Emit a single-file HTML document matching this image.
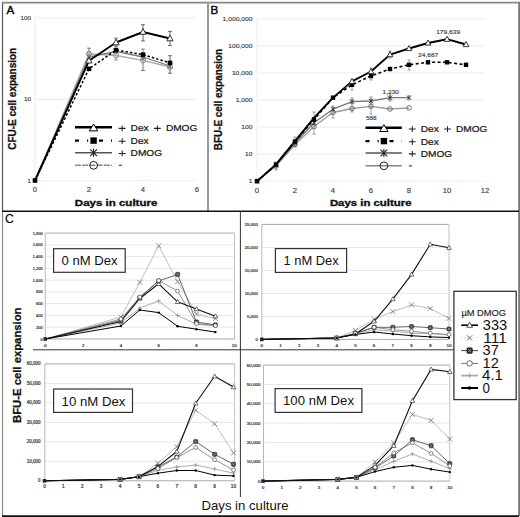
<!DOCTYPE html>
<html><head><meta charset="utf-8"><style>
html,body{margin:0;padding:0;background:#fff;}
svg{display:block;}
</style></head><body>
<svg width="520" height="517" viewBox="0 0 520 517" font-family="&quot;Liberation Sans&quot;, sans-serif">
<rect width="520" height="517" fill="#fff"/>
<line x1="35" y1="99.29999999999998" x2="197" y2="99.29999999999998" stroke="#ececec" stroke-width="1" />
<line x1="35" y1="17.899999999999977" x2="197" y2="17.899999999999977" stroke="#ececec" stroke-width="1" />
<line x1="35" y1="17.899999999999977" x2="35" y2="180.7" stroke="#ececec" stroke-width="1" />
<line x1="35" y1="180.7" x2="197" y2="180.7" stroke="#f0f0f0" stroke-width="1" />
<text x="31.1" y="19.799999999999976" font-size="5.4" text-anchor="end" fill="#444" font-weight="normal" textLength="10.63" lengthAdjust="spacingAndGlyphs" stroke="#444" stroke-width="0.15">100</text>
<text x="31.1" y="101.19999999999999" font-size="5.4" text-anchor="end" fill="#444" font-weight="normal" textLength="7.09" lengthAdjust="spacingAndGlyphs" stroke="#444" stroke-width="0.15">10</text>
<text x="31.1" y="182.6" font-size="5.4" text-anchor="end" fill="#444" font-weight="normal" textLength="3.54" lengthAdjust="spacingAndGlyphs" stroke="#444" stroke-width="0.15">1</text>
<text x="35" y="191.7" font-size="6.4" text-anchor="middle" fill="#444" font-weight="normal" textLength="4.27" lengthAdjust="spacingAndGlyphs" stroke="#444" stroke-width="0.15">0</text>
<text x="89" y="191.7" font-size="6.4" text-anchor="middle" fill="#444" font-weight="normal" textLength="4.27" lengthAdjust="spacingAndGlyphs" stroke="#444" stroke-width="0.15">2</text>
<text x="143" y="191.7" font-size="6.4" text-anchor="middle" fill="#444" font-weight="normal" textLength="4.27" lengthAdjust="spacingAndGlyphs" stroke="#444" stroke-width="0.15">4</text>
<text x="197" y="191.7" font-size="6.4" text-anchor="middle" fill="#444" font-weight="normal" textLength="4.27" lengthAdjust="spacingAndGlyphs" stroke="#444" stroke-width="0.15">6</text>
<text x="116.1" y="206.1" font-size="8.8" text-anchor="middle" fill="#111" font-weight="bold" textLength="82.5" lengthAdjust="spacingAndGlyphs" stroke="#111" stroke-width="0.35">Days in culture</text>
<text transform="translate(16.2,149.8) rotate(-90)" font-size="10" font-weight="bold" fill="#111" stroke="#111" stroke-width="0.3" textLength="102" lengthAdjust="spacingAndGlyphs">CFU-E cell expansion</text>
<text x="6.5" y="13.8" font-size="11.6" text-anchor="start" fill="#000" font-weight="normal" stroke="#000" stroke-width="0.4">A</text>
<line x1="89" y1="48.2" x2="89" y2="59" stroke="#666" stroke-width="0.9" />
<line x1="87.1" y1="48.2" x2="90.9" y2="48.2" stroke="#666" stroke-width="0.9" />
<line x1="87.1" y1="59" x2="90.9" y2="59" stroke="#666" stroke-width="0.9" />
<line x1="116" y1="38.2" x2="116" y2="46" stroke="#666" stroke-width="0.9" />
<line x1="114.1" y1="38.2" x2="117.9" y2="38.2" stroke="#666" stroke-width="0.9" />
<line x1="114.1" y1="46" x2="117.9" y2="46" stroke="#666" stroke-width="0.9" />
<line x1="143" y1="24.7" x2="143" y2="40.9" stroke="#555" stroke-width="0.9" />
<line x1="141.1" y1="24.7" x2="144.9" y2="24.7" stroke="#555" stroke-width="0.9" />
<line x1="141.1" y1="40.9" x2="144.9" y2="40.9" stroke="#555" stroke-width="0.9" />
<line x1="170" y1="31.4" x2="170" y2="45.6" stroke="#555" stroke-width="0.9" />
<line x1="168.1" y1="31.4" x2="171.9" y2="31.4" stroke="#555" stroke-width="0.9" />
<line x1="168.1" y1="45.6" x2="171.9" y2="45.6" stroke="#555" stroke-width="0.9" />
<line x1="143" y1="49" x2="143" y2="60" stroke="#777" stroke-width="0.9" />
<line x1="141.1" y1="49" x2="144.9" y2="49" stroke="#777" stroke-width="0.9" />
<line x1="141.1" y1="60" x2="144.9" y2="60" stroke="#777" stroke-width="0.9" />
<line x1="143" y1="57" x2="143" y2="70.5" stroke="#666" stroke-width="0.9" />
<line x1="141.1" y1="57" x2="144.9" y2="57" stroke="#666" stroke-width="0.9" />
<line x1="141.1" y1="70.5" x2="144.9" y2="70.5" stroke="#666" stroke-width="0.9" />
<line x1="170" y1="55.7" x2="170" y2="73.2" stroke="#555" stroke-width="0.9" />
<line x1="168.1" y1="55.7" x2="171.9" y2="55.7" stroke="#555" stroke-width="0.9" />
<line x1="168.1" y1="73.2" x2="171.9" y2="73.2" stroke="#555" stroke-width="0.9" />
<line x1="89" y1="52" x2="89" y2="62" stroke="#888" stroke-width="0.9" />
<line x1="87.1" y1="52" x2="90.9" y2="52" stroke="#888" stroke-width="0.9" />
<line x1="87.1" y1="62" x2="90.9" y2="62" stroke="#888" stroke-width="0.9" />
<line x1="116" y1="46" x2="116" y2="60" stroke="#888" stroke-width="0.9" />
<line x1="114.1" y1="46" x2="117.9" y2="46" stroke="#888" stroke-width="0.9" />
<line x1="114.1" y1="60" x2="117.9" y2="60" stroke="#888" stroke-width="0.9" />
<polyline points="35.00,180.50 89.00,53.80 116.00,55.50 143.00,60.40 170.00,67.00" fill="none" stroke="#aaa" stroke-width="1.4" stroke-linejoin="round" />
<polyline points="35.00,180.50 89.00,57.00 116.00,51.30 143.00,57.00 170.00,66.00" fill="none" stroke="#777" stroke-width="1.3" stroke-linejoin="round" />
<polyline points="35.00,180.50 89.00,68.80 116.00,50.10 143.00,54.60 170.00,62.90" fill="none" stroke="#000" stroke-width="1.5" stroke-linejoin="round" stroke-dasharray="2.5,2"/>
<polyline points="35.00,180.50 89.00,60.70 116.00,42.50 143.00,32.00 170.00,38.50" fill="none" stroke="#000" stroke-width="1.9" stroke-linejoin="round" />
<circle cx="89.00" cy="53.80" r="2.6" fill="#bbb" stroke="#888" stroke-width="0.9"/>
<circle cx="116.00" cy="55.50" r="2.6" fill="none" stroke="#888" stroke-width="0.9"/>
<circle cx="143.00" cy="60.40" r="2.6" fill="none" stroke="#888" stroke-width="0.9"/>
<circle cx="170.00" cy="67.00" r="2.6" fill="none" stroke="#888" stroke-width="0.9"/>
<path d="M86.60,54.60L91.40,59.40M86.60,59.40L91.40,54.60M89.00,54.12L89.00,59.88" stroke="#666" stroke-width="0.9" fill="none"/>
<path d="M113.60,48.90L118.40,53.70M113.60,53.70L118.40,48.90M116.00,48.42L116.00,54.18" stroke="#666" stroke-width="0.9" fill="none"/>
<path d="M140.60,54.60L145.40,59.40M140.60,59.40L145.40,54.60M143.00,54.12L143.00,59.88" stroke="#666" stroke-width="0.9" fill="none"/>
<path d="M167.60,63.60L172.40,68.40M167.60,68.40L172.40,63.60M170.00,63.12L170.00,68.88" stroke="#666" stroke-width="0.9" fill="none"/>
<rect x="86.70" y="66.50" width="4.60" height="4.60" fill="#000" stroke="none" stroke-width="0"/>
<rect x="113.70" y="47.80" width="4.60" height="4.60" fill="#000" stroke="none" stroke-width="0"/>
<rect x="140.70" y="52.30" width="4.60" height="4.60" fill="#000" stroke="none" stroke-width="0"/>
<rect x="167.70" y="60.60" width="4.60" height="4.60" fill="#000" stroke="none" stroke-width="0"/>
<polygon points="89.00,57.40 92.14,63.01 85.86,63.01" fill="#fff" stroke="#222" stroke-width="0.9"/>
<polygon points="116.00,39.20 119.14,44.81 112.86,44.81" fill="#fff" stroke="#222" stroke-width="0.9"/>
<polygon points="143.00,28.70 146.13,34.31 139.87,34.31" fill="#fff" stroke="#222" stroke-width="0.9"/>
<polygon points="170.00,35.20 173.13,40.81 166.87,40.81" fill="#fff" stroke="#222" stroke-width="0.9"/>
<rect x="32.70" y="178.20" width="4.60" height="4.60" fill="#000" stroke="none" stroke-width="0"/>
<line x1="75" y1="127.2" x2="112" y2="127.2" stroke="#000" stroke-width="2.5" />
<polygon points="93.60,124.00 97.80,130.90 89.40,130.90" fill="#fff" stroke="#000" stroke-width="1" stroke-linejoin="miter"/>
<line x1="75" y1="140.6" x2="112" y2="140.6" stroke="#000" stroke-width="2.2" stroke-dasharray="4,8,1.2,10.8"/>
<rect x="90.40" y="137.40" width="6.40" height="6.40" fill="#000" stroke="none" stroke-width="0"/>
<line x1="75" y1="152.7" x2="112" y2="152.7" stroke="#555" stroke-width="1.4" />
<path d="M90.20,149.30L97.00,156.10M90.20,156.10L97.00,149.30M93.60,148.62L93.60,156.78" stroke="#222" stroke-width="1.1" fill="none"/>
<line x1="75" y1="165.3" x2="112" y2="165.3" stroke="#888" stroke-width="1.6" stroke-dasharray="6,1.2"/>
<circle cx="93.60" cy="165.30" r="3.9" fill="none" stroke="#222" stroke-width="1"/>
<path d="M118.75,128.35H125.55M122.15,125.45V131.25" stroke="#222" stroke-width="1.05" fill="none"/>
<path d="M118.75,141.15H125.55M122.15,138.25V144.05" stroke="#222" stroke-width="1.05" fill="none"/>
<path d="M118.75,153.45H125.55M122.15,150.55V156.35" stroke="#222" stroke-width="1.05" fill="none"/>
<text x="130.6" y="131.1" font-size="9.6" text-anchor="start" fill="#111" font-weight="normal" textLength="18.08" lengthAdjust="spacingAndGlyphs" stroke="#111" stroke-width="0.2">Dex</text>
<path d="M154.00,128.35H160.80M157.40,125.45V131.25" stroke="#222" stroke-width="1.05" fill="none"/>
<text x="165.9" y="131.1" font-size="9.6" text-anchor="start" fill="#111" font-weight="normal" textLength="31.41" lengthAdjust="spacingAndGlyphs" stroke="#111" stroke-width="0.2">DMOG</text>
<text x="130.6" y="143.9" font-size="9.6" text-anchor="start" fill="#111" font-weight="normal" textLength="18.08" lengthAdjust="spacingAndGlyphs" stroke="#111" stroke-width="0.2">Dex</text>
<text x="130.6" y="156.2" font-size="9.6" text-anchor="start" fill="#111" font-weight="normal" textLength="31.41" lengthAdjust="spacingAndGlyphs" stroke="#111" stroke-width="0.2">DMOG</text>
<path d="M118.80,165.30H121.90" stroke="#444" stroke-width="1.2"/>
<line x1="257" y1="154.17000000000002" x2="485" y2="154.17000000000002" stroke="#ececec" stroke-width="1" />
<line x1="257" y1="127.09" x2="485" y2="127.09" stroke="#ececec" stroke-width="1" />
<line x1="257" y1="100.01" x2="485" y2="100.01" stroke="#ececec" stroke-width="1" />
<line x1="257" y1="72.93" x2="485" y2="72.93" stroke="#ececec" stroke-width="1" />
<line x1="257" y1="45.85000000000002" x2="485" y2="45.85000000000002" stroke="#ececec" stroke-width="1" />
<line x1="257" y1="18.77000000000001" x2="485" y2="18.77000000000001" stroke="#ececec" stroke-width="1" />
<line x1="257" y1="181.25" x2="485" y2="181.25" stroke="#f0f0f0" stroke-width="1" />
<line x1="257" y1="18.77000000000001" x2="257" y2="181.25" stroke="#ececec" stroke-width="1" />
<text x="252.4" y="183.25" font-size="5.4" text-anchor="end" fill="#444" font-weight="normal" textLength="3.72" lengthAdjust="spacingAndGlyphs" stroke="#444" stroke-width="0.15">1</text>
<text x="252.4" y="156.17000000000002" font-size="5.4" text-anchor="end" fill="#444" font-weight="normal" textLength="7.45" lengthAdjust="spacingAndGlyphs" stroke="#444" stroke-width="0.15">10</text>
<text x="252.4" y="129.09" font-size="5.4" text-anchor="end" fill="#444" font-weight="normal" textLength="11.17" lengthAdjust="spacingAndGlyphs" stroke="#444" stroke-width="0.15">100</text>
<text x="252.4" y="102.01" font-size="5.4" text-anchor="end" fill="#444" font-weight="normal" textLength="16.75" lengthAdjust="spacingAndGlyphs" stroke="#444" stroke-width="0.15">1,000</text>
<text x="252.4" y="74.93" font-size="5.4" text-anchor="end" fill="#444" font-weight="normal" textLength="20.48" lengthAdjust="spacingAndGlyphs" stroke="#444" stroke-width="0.15">10,000</text>
<text x="252.4" y="47.85000000000002" font-size="5.4" text-anchor="end" fill="#444" font-weight="normal" textLength="24.2" lengthAdjust="spacingAndGlyphs" stroke="#444" stroke-width="0.15">100,000</text>
<text x="252.4" y="20.77000000000001" font-size="5.4" text-anchor="end" fill="#444" font-weight="normal" textLength="29.79" lengthAdjust="spacingAndGlyphs" stroke="#444" stroke-width="0.15">1,000,000</text>
<text x="257" y="193.1" font-size="6.4" text-anchor="middle" fill="#444" font-weight="normal" textLength="4.27" lengthAdjust="spacingAndGlyphs" stroke="#444" stroke-width="0.15">0</text>
<text x="295" y="193.1" font-size="6.4" text-anchor="middle" fill="#444" font-weight="normal" textLength="4.27" lengthAdjust="spacingAndGlyphs" stroke="#444" stroke-width="0.15">2</text>
<text x="333" y="193.1" font-size="6.4" text-anchor="middle" fill="#444" font-weight="normal" textLength="4.27" lengthAdjust="spacingAndGlyphs" stroke="#444" stroke-width="0.15">4</text>
<text x="371" y="193.1" font-size="6.4" text-anchor="middle" fill="#444" font-weight="normal" textLength="4.27" lengthAdjust="spacingAndGlyphs" stroke="#444" stroke-width="0.15">6</text>
<text x="409" y="193.1" font-size="6.4" text-anchor="middle" fill="#444" font-weight="normal" textLength="4.27" lengthAdjust="spacingAndGlyphs" stroke="#444" stroke-width="0.15">8</text>
<text x="447" y="193.1" font-size="6.4" text-anchor="middle" fill="#444" font-weight="normal" textLength="8.54" lengthAdjust="spacingAndGlyphs" stroke="#444" stroke-width="0.15">10</text>
<text x="485" y="193.1" font-size="6.4" text-anchor="middle" fill="#444" font-weight="normal" textLength="8.54" lengthAdjust="spacingAndGlyphs" stroke="#444" stroke-width="0.15">12</text>
<text x="370.7" y="206.1" font-size="8.8" text-anchor="middle" fill="#111" font-weight="bold" textLength="81.6" lengthAdjust="spacingAndGlyphs" stroke="#111" stroke-width="0.35">Days in culture</text>
<text transform="translate(222,150.2) rotate(-90)" font-size="10" font-weight="bold" fill="#111" stroke="#111" stroke-width="0.3" textLength="101.3" lengthAdjust="spacingAndGlyphs">BFU-E cell expansion</text>
<text x="210.4" y="13.7" font-size="11.6" text-anchor="start" fill="#000" font-weight="normal" stroke="#000" stroke-width="0.4">B</text>
<line x1="276" y1="162" x2="276" y2="170" stroke="#888" stroke-width="0.8" />
<line x1="274.4" y1="162" x2="277.6" y2="162" stroke="#888" stroke-width="0.8" />
<line x1="274.4" y1="170" x2="277.6" y2="170" stroke="#888" stroke-width="0.8" />
<line x1="295" y1="137" x2="295" y2="147" stroke="#888" stroke-width="0.8" />
<line x1="293.4" y1="137" x2="296.6" y2="137" stroke="#888" stroke-width="0.8" />
<line x1="293.4" y1="147" x2="296.6" y2="147" stroke="#888" stroke-width="0.8" />
<line x1="314" y1="112" x2="314" y2="134" stroke="#888" stroke-width="0.8" />
<line x1="312.4" y1="112" x2="315.6" y2="112" stroke="#888" stroke-width="0.8" />
<line x1="312.4" y1="134" x2="315.6" y2="134" stroke="#888" stroke-width="0.8" />
<line x1="333" y1="106" x2="333" y2="118" stroke="#888" stroke-width="0.8" />
<line x1="331.4" y1="106" x2="334.6" y2="106" stroke="#888" stroke-width="0.8" />
<line x1="331.4" y1="118" x2="334.6" y2="118" stroke="#888" stroke-width="0.8" />
<line x1="352" y1="98" x2="352" y2="112" stroke="#888" stroke-width="0.8" />
<line x1="350.4" y1="98" x2="353.6" y2="98" stroke="#888" stroke-width="0.8" />
<line x1="350.4" y1="112" x2="353.6" y2="112" stroke="#888" stroke-width="0.8" />
<line x1="371" y1="97" x2="371" y2="114" stroke="#888" stroke-width="0.8" />
<line x1="369.4" y1="97" x2="372.6" y2="97" stroke="#888" stroke-width="0.8" />
<line x1="369.4" y1="114" x2="372.6" y2="114" stroke="#888" stroke-width="0.8" />
<line x1="390" y1="94" x2="390" y2="101" stroke="#888" stroke-width="0.8" />
<line x1="388.4" y1="94" x2="391.6" y2="94" stroke="#888" stroke-width="0.8" />
<line x1="388.4" y1="101" x2="391.6" y2="101" stroke="#888" stroke-width="0.8" />
<line x1="371" y1="68" x2="371" y2="76" stroke="#888" stroke-width="0.8" />
<line x1="369.4" y1="68" x2="372.6" y2="68" stroke="#888" stroke-width="0.8" />
<line x1="369.4" y1="76" x2="372.6" y2="76" stroke="#888" stroke-width="0.8" />
<line x1="390" y1="51" x2="390" y2="58" stroke="#888" stroke-width="0.8" />
<line x1="388.4" y1="51" x2="391.6" y2="51" stroke="#888" stroke-width="0.8" />
<line x1="388.4" y1="58" x2="391.6" y2="58" stroke="#888" stroke-width="0.8" />
<line x1="371" y1="72" x2="371" y2="80" stroke="#888" stroke-width="0.8" />
<line x1="369.4" y1="72" x2="372.6" y2="72" stroke="#888" stroke-width="0.8" />
<line x1="369.4" y1="80" x2="372.6" y2="80" stroke="#888" stroke-width="0.8" />
<line x1="352" y1="80" x2="352" y2="90" stroke="#888" stroke-width="0.8" />
<line x1="350.4" y1="80" x2="353.6" y2="80" stroke="#888" stroke-width="0.8" />
<line x1="350.4" y1="90" x2="353.6" y2="90" stroke="#888" stroke-width="0.8" />
<line x1="409" y1="60" x2="409" y2="70" stroke="#888" stroke-width="0.8" />
<line x1="407.4" y1="60" x2="410.6" y2="60" stroke="#888" stroke-width="0.8" />
<line x1="407.4" y1="70" x2="410.6" y2="70" stroke="#888" stroke-width="0.8" />
<polyline points="257.00,181.20 276.00,166.00 295.00,144.50 314.00,126.60 333.00,112.50 352.00,108.50 371.00,106.30 390.00,109.00 409.00,107.80" fill="none" stroke="#999" stroke-width="1.3" stroke-linejoin="round" />
<polyline points="257.00,181.20 276.00,165.00 295.00,143.00 314.00,122.70 333.00,109.20 352.00,101.70 371.00,101.00 390.00,97.70 409.00,97.70" fill="none" stroke="#777" stroke-width="1.3" stroke-linejoin="round" />
<polyline points="257.00,181.20 276.00,164.60 295.00,141.50 314.00,119.50 333.00,97.70 352.00,84.80 371.00,76.00 390.00,69.00 409.00,64.80 428.00,62.30 447.00,62.30 466.00,64.80" fill="none" stroke="#000" stroke-width="1.6" stroke-linejoin="round" stroke-dasharray="3,2.5"/>
<polyline points="257.00,181.20 276.00,164.40 295.00,141.10 314.00,117.90 333.00,97.60 352.00,81.40 371.00,71.50 390.00,54.60 409.00,48.50 428.00,43.00 447.00,39.20 466.00,44.50" fill="none" stroke="#000" stroke-width="1.9" stroke-linejoin="round" />
<circle cx="276.00" cy="166.00" r="2.3" fill="none" stroke="#555" stroke-width="0.8"/>
<circle cx="295.00" cy="144.50" r="2.3" fill="none" stroke="#555" stroke-width="0.8"/>
<circle cx="314.00" cy="126.60" r="2.3" fill="none" stroke="#555" stroke-width="0.8"/>
<circle cx="333.00" cy="112.50" r="2.3" fill="none" stroke="#555" stroke-width="0.8"/>
<circle cx="352.00" cy="108.50" r="2.3" fill="none" stroke="#555" stroke-width="0.8"/>
<circle cx="371.00" cy="106.30" r="2.3" fill="none" stroke="#555" stroke-width="0.8"/>
<circle cx="390.00" cy="109.00" r="2.3" fill="none" stroke="#555" stroke-width="0.8"/>
<circle cx="409.00" cy="107.80" r="2.3" fill="none" stroke="#555" stroke-width="0.8"/>
<path d="M273.80,162.80L278.20,167.20M273.80,167.20L278.20,162.80M276.00,162.36L276.00,167.64" stroke="#333" stroke-width="0.9" fill="none"/>
<path d="M292.80,140.80L297.20,145.20M292.80,145.20L297.20,140.80M295.00,140.36L295.00,145.64" stroke="#333" stroke-width="0.9" fill="none"/>
<path d="M311.80,120.50L316.20,124.90M311.80,124.90L316.20,120.50M314.00,120.06L314.00,125.34" stroke="#333" stroke-width="0.9" fill="none"/>
<path d="M330.80,107.00L335.20,111.40M330.80,111.40L335.20,107.00M333.00,106.56L333.00,111.84" stroke="#333" stroke-width="0.9" fill="none"/>
<path d="M349.80,99.50L354.20,103.90M349.80,103.90L354.20,99.50M352.00,99.06L352.00,104.34" stroke="#333" stroke-width="0.9" fill="none"/>
<path d="M368.80,98.80L373.20,103.20M368.80,103.20L373.20,98.80M371.00,98.36L371.00,103.64" stroke="#333" stroke-width="0.9" fill="none"/>
<path d="M387.80,95.50L392.20,99.90M387.80,99.90L392.20,95.50M390.00,95.06L390.00,100.34" stroke="#333" stroke-width="0.9" fill="none"/>
<path d="M406.80,95.50L411.20,99.90M406.80,99.90L411.20,95.50M409.00,95.06L409.00,100.34" stroke="#333" stroke-width="0.9" fill="none"/>
<rect x="273.80" y="162.40" width="4.40" height="4.40" fill="#000" stroke="none" stroke-width="0"/>
<rect x="292.80" y="139.30" width="4.40" height="4.40" fill="#000" stroke="none" stroke-width="0"/>
<rect x="311.80" y="117.30" width="4.40" height="4.40" fill="#000" stroke="none" stroke-width="0"/>
<rect x="330.80" y="95.50" width="4.40" height="4.40" fill="#000" stroke="none" stroke-width="0"/>
<rect x="349.80" y="82.60" width="4.40" height="4.40" fill="#000" stroke="none" stroke-width="0"/>
<rect x="368.80" y="73.80" width="4.40" height="4.40" fill="#000" stroke="none" stroke-width="0"/>
<rect x="387.80" y="66.80" width="4.40" height="4.40" fill="#000" stroke="none" stroke-width="0"/>
<rect x="406.80" y="62.60" width="4.40" height="4.40" fill="#000" stroke="none" stroke-width="0"/>
<rect x="425.80" y="60.10" width="4.40" height="4.40" fill="#000" stroke="none" stroke-width="0"/>
<rect x="444.80" y="60.10" width="4.40" height="4.40" fill="#000" stroke="none" stroke-width="0"/>
<rect x="463.80" y="62.60" width="4.40" height="4.40" fill="#000" stroke="none" stroke-width="0"/>
<polygon points="352.00,78.40 354.85,83.50 349.15,83.50" fill="#fff" stroke="#222" stroke-width="0.9"/>
<polygon points="371.00,68.50 373.85,73.60 368.15,73.60" fill="#fff" stroke="#222" stroke-width="0.9"/>
<polygon points="390.00,51.60 392.85,56.70 387.15,56.70" fill="#fff" stroke="#222" stroke-width="0.9"/>
<polygon points="409.00,45.50 411.85,50.60 406.15,50.60" fill="#fff" stroke="#222" stroke-width="0.9"/>
<polygon points="428.00,40.00 430.85,45.10 425.15,45.10" fill="#fff" stroke="#222" stroke-width="0.9"/>
<polygon points="447.00,36.20 449.85,41.30 444.15,41.30" fill="#fff" stroke="#222" stroke-width="0.9"/>
<polygon points="466.00,41.50 468.85,46.60 463.15,46.60" fill="#fff" stroke="#222" stroke-width="0.9"/>
<rect x="254.70" y="178.90" width="4.60" height="4.60" fill="#000" stroke="none" stroke-width="0"/>
<text x="448.2" y="33.9" font-size="5.4" text-anchor="middle" fill="#444" font-weight="normal" textLength="24" lengthAdjust="spacingAndGlyphs" stroke="#444" stroke-width="0.15">179,639</text>
<text x="428.2" y="57.3" font-size="5.4" text-anchor="middle" fill="#444" font-weight="normal" textLength="20.2" lengthAdjust="spacingAndGlyphs" stroke="#444" stroke-width="0.15">24,667</text>
<text x="390.8" y="93.8" font-size="5.4" text-anchor="middle" fill="#444" font-weight="normal" textLength="16.5" lengthAdjust="spacingAndGlyphs" stroke="#444" stroke-width="0.15">1,230</text>
<text x="371.3" y="119.9" font-size="5.2" text-anchor="middle" fill="#444" font-weight="normal" textLength="10.5" lengthAdjust="spacingAndGlyphs" stroke="#444" stroke-width="0.15">588</text>
<rect x="363" y="121" width="126" height="52" fill="#fff"/>
<line x1="365.5" y1="127.8" x2="401.8" y2="127.8" stroke="#000" stroke-width="2.5" />
<polygon points="383.90,124.60 388.10,131.50 379.70,131.50" fill="#fff" stroke="#000" stroke-width="1" stroke-linejoin="miter"/>
<line x1="365.5" y1="141.1" x2="401.8" y2="141.1" stroke="#000" stroke-width="2.2" stroke-dasharray="4,8,1.2,10.8"/>
<rect x="380.70" y="137.90" width="6.40" height="6.40" fill="#000" stroke="none" stroke-width="0"/>
<line x1="365.5" y1="153" x2="401.8" y2="153" stroke="#555" stroke-width="1.4" />
<path d="M380.50,149.60L387.30,156.40M380.50,156.40L387.30,149.60M383.90,148.92L383.90,157.08" stroke="#222" stroke-width="1.1" fill="none"/>
<line x1="365.5" y1="165.8" x2="401.8" y2="165.8" stroke="#888" stroke-width="1.6" />
<circle cx="383.90" cy="165.80" r="3.9" fill="none" stroke="#222" stroke-width="1"/>
<path d="M408.85,129.05H415.65M412.25,126.15V131.95" stroke="#222" stroke-width="1.05" fill="none"/>
<path d="M408.85,141.75H415.65M412.25,138.85V144.65" stroke="#222" stroke-width="1.05" fill="none"/>
<path d="M408.85,153.85H415.65M412.25,150.95V156.75" stroke="#222" stroke-width="1.05" fill="none"/>
<text x="420.7" y="131.8" font-size="9.6" text-anchor="start" fill="#111" font-weight="normal" textLength="18.08" lengthAdjust="spacingAndGlyphs" stroke="#111" stroke-width="0.2">Dex</text>
<path d="M444.10,129.05H450.90M447.50,126.15V131.95" stroke="#222" stroke-width="1.05" fill="none"/>
<text x="456.0" y="131.8" font-size="9.6" text-anchor="start" fill="#111" font-weight="normal" textLength="31.41" lengthAdjust="spacingAndGlyphs" stroke="#111" stroke-width="0.2">DMOG</text>
<text x="420.7" y="144.5" font-size="9.6" text-anchor="start" fill="#111" font-weight="normal" textLength="18.08" lengthAdjust="spacingAndGlyphs" stroke="#111" stroke-width="0.2">Dex</text>
<text x="420.7" y="156.6" font-size="9.6" text-anchor="start" fill="#111" font-weight="normal" textLength="31.41" lengthAdjust="spacingAndGlyphs" stroke="#111" stroke-width="0.2">DMOG</text>
<path d="M408.90,165.90H412.00" stroke="#444" stroke-width="1.2"/>
<text x="4.9" y="223.2" font-size="12.3" text-anchor="start" fill="#000" font-weight="normal" stroke="#000" stroke-width="0.1">C</text>
<text transform="translate(20.8,423) rotate(-90)" font-size="11.2" font-weight="bold" fill="#111" stroke="#111" stroke-width="0.25" textLength="115.5" lengthAdjust="spacingAndGlyphs">BFU-E cell expansion</text>
<text x="245" y="510" font-size="13.2" text-anchor="middle" fill="#111" font-weight="normal" textLength="87" lengthAdjust="spacingAndGlyphs" >Days in culture</text>
<line x1="45.3" y1="327.23333333333335" x2="234.5" y2="327.23333333333335" stroke="#e4e4e4" stroke-width="0.9" />
<line x1="45.3" y1="315.46666666666664" x2="234.5" y2="315.46666666666664" stroke="#e4e4e4" stroke-width="0.9" />
<line x1="45.3" y1="303.7" x2="234.5" y2="303.7" stroke="#e4e4e4" stroke-width="0.9" />
<line x1="45.3" y1="291.93333333333334" x2="234.5" y2="291.93333333333334" stroke="#e4e4e4" stroke-width="0.9" />
<line x1="45.3" y1="280.1666666666667" x2="234.5" y2="280.1666666666667" stroke="#e4e4e4" stroke-width="0.9" />
<line x1="45.3" y1="268.4" x2="234.5" y2="268.4" stroke="#e4e4e4" stroke-width="0.9" />
<line x1="45.3" y1="256.6333333333333" x2="234.5" y2="256.6333333333333" stroke="#e4e4e4" stroke-width="0.9" />
<line x1="45.3" y1="244.86666666666667" x2="234.5" y2="244.86666666666667" stroke="#e4e4e4" stroke-width="0.9" />
<line x1="45.3" y1="233.1" x2="234.5" y2="233.1" stroke="#a8a8a8" stroke-width="1" />
<line x1="234.5" y1="233.1" x2="234.5" y2="339" stroke="#c0c0c0" stroke-width="1" />
<line x1="45.3" y1="233.1" x2="45.3" y2="339" stroke="#b0b0b0" stroke-width="0.9" />
<line x1="45.3" y1="339" x2="234.5" y2="339" stroke="#aaa" stroke-width="1" />
<text x="42.6" y="340.5" font-size="4.2" text-anchor="end" fill="#333" font-weight="normal" textLength="2.17" lengthAdjust="spacingAndGlyphs" stroke="#333" stroke-width="0.2">0</text>
<text x="42.6" y="328.73333333333335" font-size="4.2" text-anchor="end" fill="#333" font-weight="normal" textLength="6.52" lengthAdjust="spacingAndGlyphs" stroke="#333" stroke-width="0.2">200</text>
<text x="42.6" y="316.96666666666664" font-size="4.2" text-anchor="end" fill="#333" font-weight="normal" textLength="6.52" lengthAdjust="spacingAndGlyphs" stroke="#333" stroke-width="0.2">400</text>
<text x="42.6" y="305.2" font-size="4.2" text-anchor="end" fill="#333" font-weight="normal" textLength="6.52" lengthAdjust="spacingAndGlyphs" stroke="#333" stroke-width="0.2">600</text>
<text x="42.6" y="293.43333333333334" font-size="4.2" text-anchor="end" fill="#333" font-weight="normal" textLength="6.52" lengthAdjust="spacingAndGlyphs" stroke="#333" stroke-width="0.2">800</text>
<text x="42.6" y="281.6666666666667" font-size="4.2" text-anchor="end" fill="#333" font-weight="normal" textLength="9.77" lengthAdjust="spacingAndGlyphs" stroke="#333" stroke-width="0.2">1,000</text>
<text x="42.6" y="269.9" font-size="4.2" text-anchor="end" fill="#333" font-weight="normal" textLength="9.77" lengthAdjust="spacingAndGlyphs" stroke="#333" stroke-width="0.2">1,200</text>
<text x="42.6" y="258.1333333333333" font-size="4.2" text-anchor="end" fill="#333" font-weight="normal" textLength="9.77" lengthAdjust="spacingAndGlyphs" stroke="#333" stroke-width="0.2">1,400</text>
<text x="42.6" y="246.36666666666667" font-size="4.2" text-anchor="end" fill="#333" font-weight="normal" textLength="9.77" lengthAdjust="spacingAndGlyphs" stroke="#333" stroke-width="0.2">1,600</text>
<text x="42.6" y="234.6" font-size="4.2" text-anchor="end" fill="#333" font-weight="normal" textLength="9.77" lengthAdjust="spacingAndGlyphs" stroke="#333" stroke-width="0.2">1,800</text>
<text x="45.3" y="346.6" font-size="4.2" text-anchor="middle" fill="#333" font-weight="normal" textLength="2.45" lengthAdjust="spacingAndGlyphs" stroke="#333" stroke-width="0.2">0</text>
<text x="83.1" y="346.6" font-size="4.2" text-anchor="middle" fill="#333" font-weight="normal" textLength="2.45" lengthAdjust="spacingAndGlyphs" stroke="#333" stroke-width="0.2">2</text>
<text x="120.89999999999999" y="346.6" font-size="4.2" text-anchor="middle" fill="#333" font-weight="normal" textLength="2.45" lengthAdjust="spacingAndGlyphs" stroke="#333" stroke-width="0.2">4</text>
<text x="158.7" y="346.6" font-size="4.2" text-anchor="middle" fill="#333" font-weight="normal" textLength="2.45" lengthAdjust="spacingAndGlyphs" stroke="#333" stroke-width="0.2">6</text>
<text x="196.5" y="346.6" font-size="4.2" text-anchor="middle" fill="#333" font-weight="normal" textLength="2.45" lengthAdjust="spacingAndGlyphs" stroke="#333" stroke-width="0.2">8</text>
<text x="234.3" y="346.6" font-size="4.2" text-anchor="middle" fill="#333" font-weight="normal" textLength="4.9" lengthAdjust="spacingAndGlyphs" stroke="#333" stroke-width="0.2">10</text>
<rect x="53.6" y="248.7" width="71.6" height="23.600000000000023" fill="#fff" stroke="#333" stroke-width="1.2"/>
<text x="61.5" y="265.4" font-size="13.2" text-anchor="start" fill="#111" font-weight="normal" textLength="56" lengthAdjust="spacingAndGlyphs" >0 nM Dex</text>
<polyline points="45.30,339.00 120.90,317.00 139.80,282.30 158.70,245.80 177.60,281.60 196.50,314.00 215.40,318.70" fill="none" stroke="#a8a8a8" stroke-width="0.75" stroke-linejoin="round" />
<polyline points="45.30,339.00 120.90,323.00 139.80,308.00 158.70,301.00 177.60,315.50 196.50,324.20 215.40,326.00" fill="none" stroke="#999" stroke-width="0.8" stroke-linejoin="round" />
<polyline points="45.30,339.00 120.90,319.00 139.80,297.00 158.70,280.60 177.60,291.00 196.50,323.50 215.40,325.60" fill="none" stroke="#777" stroke-width="0.8" stroke-linejoin="round" />
<polyline points="45.30,339.00 120.90,320.40 139.80,297.50 158.70,281.00 177.60,274.40 196.50,322.00 215.40,324.90" fill="none" stroke="#555" stroke-width="0.9" stroke-linejoin="round" />
<polyline points="45.30,339.00 120.90,326.00 139.80,310.00 158.70,312.60 177.60,326.30 196.50,329.20 215.40,332.10" fill="none" stroke="#000" stroke-width="1.0" stroke-linejoin="round" />
<polyline points="45.30,339.00 120.90,321.50 139.80,298.50 158.70,283.80 177.60,301.80 196.50,309.00 215.40,316.20" fill="none" stroke="#111" stroke-width="1.1" stroke-linejoin="round" />
<path d="M118.40,314.50L123.40,319.50M118.40,319.50L123.40,314.50" stroke="#666" stroke-width="0.7" fill="none"/>
<path d="M137.30,279.80L142.30,284.80M137.30,284.80L142.30,279.80" stroke="#666" stroke-width="0.7" fill="none"/>
<path d="M156.20,243.30L161.20,248.30M156.20,248.30L161.20,243.30" stroke="#666" stroke-width="0.7" fill="none"/>
<path d="M175.10,279.10L180.10,284.10M175.10,284.10L180.10,279.10" stroke="#666" stroke-width="0.7" fill="none"/>
<path d="M194.00,311.50L199.00,316.50M194.00,316.50L199.00,311.50" stroke="#666" stroke-width="0.7" fill="none"/>
<path d="M212.90,316.20L217.90,321.20M212.90,321.20L217.90,316.20" stroke="#666" stroke-width="0.7" fill="none"/>
<path d="M118.80,323.00L123.00,323.00M120.90,320.90L120.90,325.10" stroke="#888" stroke-width="0.7" fill="none"/>
<path d="M137.70,308.00L141.90,308.00M139.80,305.90L139.80,310.10" stroke="#888" stroke-width="0.7" fill="none"/>
<path d="M156.60,301.00L160.80,301.00M158.70,298.90L158.70,303.10" stroke="#888" stroke-width="0.7" fill="none"/>
<path d="M175.50,315.50L179.70,315.50M177.60,313.40L177.60,317.60" stroke="#888" stroke-width="0.7" fill="none"/>
<path d="M194.40,324.20L198.60,324.20M196.50,322.10L196.50,326.30" stroke="#888" stroke-width="0.7" fill="none"/>
<path d="M213.30,326.00L217.50,326.00M215.40,323.90L215.40,328.10" stroke="#888" stroke-width="0.7" fill="none"/>
<polygon points="120.90,319.10 123.18,323.18 118.62,323.18" fill="#fff" stroke="#333" stroke-width="0.7"/>
<polygon points="139.80,296.10 142.08,300.18 137.52,300.18" fill="#fff" stroke="#333" stroke-width="0.7"/>
<polygon points="158.70,281.40 160.98,285.48 156.42,285.48" fill="#fff" stroke="#333" stroke-width="0.7"/>
<polygon points="177.60,299.40 179.88,303.48 175.32,303.48" fill="#fff" stroke="#333" stroke-width="0.7"/>
<polygon points="196.50,306.60 198.78,310.68 194.22,310.68" fill="#fff" stroke="#333" stroke-width="0.7"/>
<polygon points="215.40,313.80 217.68,317.88 213.12,317.88" fill="#fff" stroke="#333" stroke-width="0.7"/>
<rect x="118.80" y="318.30" width="4.2" height="4.2" rx="1" fill="#444" stroke="#222" stroke-width="0.5"/>
<path d="M119.80,319.30L122.00,321.50M119.80,321.50L122.00,319.30" stroke="#bbb" stroke-width="0.5" fill="none"/>
<rect x="137.70" y="295.40" width="4.2" height="4.2" rx="1" fill="#444" stroke="#222" stroke-width="0.5"/>
<path d="M138.70,296.40L140.90,298.60M138.70,298.60L140.90,296.40" stroke="#bbb" stroke-width="0.5" fill="none"/>
<rect x="156.60" y="278.90" width="4.2" height="4.2" rx="1" fill="#444" stroke="#222" stroke-width="0.5"/>
<path d="M157.60,279.90L159.80,282.10M157.60,282.10L159.80,279.90" stroke="#bbb" stroke-width="0.5" fill="none"/>
<rect x="175.50" y="272.30" width="4.2" height="4.2" rx="1" fill="#444" stroke="#222" stroke-width="0.5"/>
<path d="M176.50,273.30L178.70,275.50M176.50,275.50L178.70,273.30" stroke="#bbb" stroke-width="0.5" fill="none"/>
<rect x="194.40" y="319.90" width="4.2" height="4.2" rx="1" fill="#444" stroke="#222" stroke-width="0.5"/>
<path d="M195.40,320.90L197.60,323.10M195.40,323.10L197.60,320.90" stroke="#bbb" stroke-width="0.5" fill="none"/>
<rect x="213.30" y="322.80" width="4.2" height="4.2" rx="1" fill="#444" stroke="#222" stroke-width="0.5"/>
<path d="M214.30,323.80L216.50,326.00M214.30,326.00L216.50,323.80" stroke="#bbb" stroke-width="0.5" fill="none"/>
<circle cx="120.90" cy="319.00" r="1.9" fill="#fff" stroke="#555" stroke-width="0.7"/>
<circle cx="139.80" cy="297.00" r="1.9" fill="#fff" stroke="#555" stroke-width="0.7"/>
<circle cx="158.70" cy="280.60" r="1.9" fill="#fff" stroke="#555" stroke-width="0.7"/>
<circle cx="177.60" cy="291.00" r="1.9" fill="#fff" stroke="#555" stroke-width="0.7"/>
<circle cx="196.50" cy="323.50" r="1.9" fill="#fff" stroke="#555" stroke-width="0.7"/>
<circle cx="215.40" cy="325.60" r="1.9" fill="#fff" stroke="#555" stroke-width="0.7"/>
<circle cx="120.90" cy="326.00" r="1.2" fill="#000" stroke="#000" stroke-width="0"/>
<circle cx="139.80" cy="310.00" r="1.2" fill="#000" stroke="#000" stroke-width="0"/>
<circle cx="158.70" cy="312.60" r="1.2" fill="#000" stroke="#000" stroke-width="0"/>
<circle cx="177.60" cy="326.30" r="1.2" fill="#000" stroke="#000" stroke-width="0"/>
<circle cx="196.50" cy="329.20" r="1.2" fill="#000" stroke="#000" stroke-width="0"/>
<circle cx="215.40" cy="332.10" r="1.2" fill="#000" stroke="#000" stroke-width="0"/>
<rect x="43.50" y="337.20" width="3.6" height="3.6" fill="#222"/>
<line x1="261.8" y1="316.4" x2="449" y2="316.4" stroke="#e4e4e4" stroke-width="0.9" />
<line x1="261.8" y1="293.4" x2="449" y2="293.4" stroke="#e4e4e4" stroke-width="0.9" />
<line x1="261.8" y1="270.4" x2="449" y2="270.4" stroke="#e4e4e4" stroke-width="0.9" />
<line x1="261.8" y1="247.4" x2="449" y2="247.4" stroke="#e4e4e4" stroke-width="0.9" />
<line x1="261.8" y1="224.4" x2="449" y2="224.4" stroke="#a8a8a8" stroke-width="1" />
<line x1="449" y1="224.4" x2="449" y2="339.4" stroke="#c0c0c0" stroke-width="1" />
<line x1="261.8" y1="224.4" x2="261.8" y2="339.4" stroke="#b0b0b0" stroke-width="0.9" />
<line x1="261.8" y1="339.4" x2="449" y2="339.4" stroke="#aaa" stroke-width="1" />
<text x="257.8" y="340.9" font-size="4.3" text-anchor="end" fill="#333" font-weight="normal" textLength="2.39" lengthAdjust="spacingAndGlyphs" stroke="#333" stroke-width="0.2">0</text>
<text x="257.8" y="317.9" font-size="4.3" text-anchor="end" fill="#333" font-weight="normal" textLength="10.76" lengthAdjust="spacingAndGlyphs" stroke="#333" stroke-width="0.2">5,000</text>
<text x="257.8" y="294.9" font-size="4.3" text-anchor="end" fill="#333" font-weight="normal" textLength="13.15" lengthAdjust="spacingAndGlyphs" stroke="#333" stroke-width="0.2">10,000</text>
<text x="257.8" y="271.9" font-size="4.3" text-anchor="end" fill="#333" font-weight="normal" textLength="13.15" lengthAdjust="spacingAndGlyphs" stroke="#333" stroke-width="0.2">15,000</text>
<text x="257.8" y="248.9" font-size="4.3" text-anchor="end" fill="#333" font-weight="normal" textLength="13.15" lengthAdjust="spacingAndGlyphs" stroke="#333" stroke-width="0.2">20,000</text>
<text x="257.8" y="225.9" font-size="4.3" text-anchor="end" fill="#333" font-weight="normal" textLength="13.15" lengthAdjust="spacingAndGlyphs" stroke="#333" stroke-width="0.2">25,000</text>
<text x="261.8" y="347.0" font-size="4.3" text-anchor="middle" fill="#333" font-weight="normal" textLength="2.51" lengthAdjust="spacingAndGlyphs" stroke="#333" stroke-width="0.2">0</text>
<text x="280.52" y="347.0" font-size="4.3" text-anchor="middle" fill="#333" font-weight="normal" textLength="2.51" lengthAdjust="spacingAndGlyphs" stroke="#333" stroke-width="0.2">1</text>
<text x="299.24" y="347.0" font-size="4.3" text-anchor="middle" fill="#333" font-weight="normal" textLength="2.51" lengthAdjust="spacingAndGlyphs" stroke="#333" stroke-width="0.2">2</text>
<text x="317.96000000000004" y="347.0" font-size="4.3" text-anchor="middle" fill="#333" font-weight="normal" textLength="2.51" lengthAdjust="spacingAndGlyphs" stroke="#333" stroke-width="0.2">3</text>
<text x="336.68" y="347.0" font-size="4.3" text-anchor="middle" fill="#333" font-weight="normal" textLength="2.51" lengthAdjust="spacingAndGlyphs" stroke="#333" stroke-width="0.2">4</text>
<text x="355.4" y="347.0" font-size="4.3" text-anchor="middle" fill="#333" font-weight="normal" textLength="2.51" lengthAdjust="spacingAndGlyphs" stroke="#333" stroke-width="0.2">5</text>
<text x="374.12" y="347.0" font-size="4.3" text-anchor="middle" fill="#333" font-weight="normal" textLength="2.51" lengthAdjust="spacingAndGlyphs" stroke="#333" stroke-width="0.2">6</text>
<text x="392.84000000000003" y="347.0" font-size="4.3" text-anchor="middle" fill="#333" font-weight="normal" textLength="2.51" lengthAdjust="spacingAndGlyphs" stroke="#333" stroke-width="0.2">7</text>
<text x="411.56" y="347.0" font-size="4.3" text-anchor="middle" fill="#333" font-weight="normal" textLength="2.51" lengthAdjust="spacingAndGlyphs" stroke="#333" stroke-width="0.2">8</text>
<text x="430.28" y="347.0" font-size="4.3" text-anchor="middle" fill="#333" font-weight="normal" textLength="2.51" lengthAdjust="spacingAndGlyphs" stroke="#333" stroke-width="0.2">9</text>
<text x="449.0" y="347.0" font-size="4.3" text-anchor="middle" fill="#333" font-weight="normal" textLength="5.02" lengthAdjust="spacingAndGlyphs" stroke="#333" stroke-width="0.2">10</text>
<rect x="275.4" y="248.6" width="71.20000000000005" height="23.799999999999983" fill="#fff" stroke="#333" stroke-width="1.2"/>
<text x="283.5" y="265.4" font-size="13.2" text-anchor="start" fill="#111" font-weight="normal" textLength="55.2" lengthAdjust="spacingAndGlyphs" >1 nM Dex</text>
<polyline points="261.80,339.40 336.68,338.00 355.40,330.40 374.12,319.30 392.84,311.60 411.56,304.90 430.28,308.50 449.00,318.40" fill="none" stroke="#a8a8a8" stroke-width="0.75" stroke-linejoin="round" />
<polyline points="261.80,339.40 336.68,338.00 355.40,334.00 374.12,329.70 392.84,331.00 411.56,333.30 430.28,333.50 449.00,335.20" fill="none" stroke="#999" stroke-width="0.8" stroke-linejoin="round" />
<polyline points="261.80,339.40 336.68,338.00 355.40,333.50 374.12,327.30 392.84,329.70 411.56,331.30 430.28,333.30 449.00,334.50" fill="none" stroke="#777" stroke-width="0.8" stroke-linejoin="round" />
<polyline points="261.80,339.40 336.68,338.00 355.40,333.30 374.12,327.30 392.84,327.30 411.56,326.50 430.28,327.70 449.00,329.00" fill="none" stroke="#555" stroke-width="0.9" stroke-linejoin="round" />
<polyline points="261.80,339.40 336.68,338.00 355.40,334.50 374.12,332.00 392.84,334.00 411.56,335.70 430.28,336.90 449.00,337.60" fill="none" stroke="#000" stroke-width="1.0" stroke-linejoin="round" />
<polyline points="261.80,339.40 336.68,338.00 355.40,334.00 374.12,321.30 392.84,299.10 411.56,274.40 430.28,244.20 449.00,247.70" fill="none" stroke="#111" stroke-width="1.1" stroke-linejoin="round" />
<path d="M334.18,335.50L339.18,340.50M334.18,340.50L339.18,335.50" stroke="#666" stroke-width="0.7" fill="none"/>
<path d="M352.90,327.90L357.90,332.90M352.90,332.90L357.90,327.90" stroke="#666" stroke-width="0.7" fill="none"/>
<path d="M371.62,316.80L376.62,321.80M371.62,321.80L376.62,316.80" stroke="#666" stroke-width="0.7" fill="none"/>
<path d="M390.34,309.10L395.34,314.10M390.34,314.10L395.34,309.10" stroke="#666" stroke-width="0.7" fill="none"/>
<path d="M409.06,302.40L414.06,307.40M409.06,307.40L414.06,302.40" stroke="#666" stroke-width="0.7" fill="none"/>
<path d="M427.78,306.00L432.78,311.00M427.78,311.00L432.78,306.00" stroke="#666" stroke-width="0.7" fill="none"/>
<path d="M446.50,315.90L451.50,320.90M446.50,320.90L451.50,315.90" stroke="#666" stroke-width="0.7" fill="none"/>
<path d="M334.58,338.00L338.78,338.00M336.68,335.90L336.68,340.10" stroke="#888" stroke-width="0.7" fill="none"/>
<path d="M353.30,334.00L357.50,334.00M355.40,331.90L355.40,336.10" stroke="#888" stroke-width="0.7" fill="none"/>
<path d="M372.02,329.70L376.22,329.70M374.12,327.60L374.12,331.80" stroke="#888" stroke-width="0.7" fill="none"/>
<path d="M390.74,331.00L394.94,331.00M392.84,328.90L392.84,333.10" stroke="#888" stroke-width="0.7" fill="none"/>
<path d="M409.46,333.30L413.66,333.30M411.56,331.20L411.56,335.40" stroke="#888" stroke-width="0.7" fill="none"/>
<path d="M428.18,333.50L432.38,333.50M430.28,331.40L430.28,335.60" stroke="#888" stroke-width="0.7" fill="none"/>
<path d="M446.90,335.20L451.10,335.20M449.00,333.10L449.00,337.30" stroke="#888" stroke-width="0.7" fill="none"/>
<polygon points="336.68,335.60 338.96,339.68 334.40,339.68" fill="#fff" stroke="#333" stroke-width="0.7"/>
<polygon points="355.40,331.60 357.68,335.68 353.12,335.68" fill="#fff" stroke="#333" stroke-width="0.7"/>
<polygon points="374.12,318.90 376.40,322.98 371.84,322.98" fill="#fff" stroke="#333" stroke-width="0.7"/>
<polygon points="392.84,296.70 395.12,300.78 390.56,300.78" fill="#fff" stroke="#333" stroke-width="0.7"/>
<polygon points="411.56,272.00 413.84,276.08 409.28,276.08" fill="#fff" stroke="#333" stroke-width="0.7"/>
<polygon points="430.28,241.80 432.56,245.88 428.00,245.88" fill="#fff" stroke="#333" stroke-width="0.7"/>
<polygon points="449.00,245.30 451.28,249.38 446.72,249.38" fill="#fff" stroke="#333" stroke-width="0.7"/>
<rect x="334.58" y="335.90" width="4.2" height="4.2" rx="1" fill="#444" stroke="#222" stroke-width="0.5"/>
<path d="M335.58,336.90L337.78,339.10M335.58,339.10L337.78,336.90" stroke="#bbb" stroke-width="0.5" fill="none"/>
<rect x="353.30" y="331.20" width="4.2" height="4.2" rx="1" fill="#444" stroke="#222" stroke-width="0.5"/>
<path d="M354.30,332.20L356.50,334.40M354.30,334.40L356.50,332.20" stroke="#bbb" stroke-width="0.5" fill="none"/>
<rect x="372.02" y="325.20" width="4.2" height="4.2" rx="1" fill="#444" stroke="#222" stroke-width="0.5"/>
<path d="M373.02,326.20L375.22,328.40M373.02,328.40L375.22,326.20" stroke="#bbb" stroke-width="0.5" fill="none"/>
<rect x="390.74" y="325.20" width="4.2" height="4.2" rx="1" fill="#444" stroke="#222" stroke-width="0.5"/>
<path d="M391.74,326.20L393.94,328.40M391.74,328.40L393.94,326.20" stroke="#bbb" stroke-width="0.5" fill="none"/>
<rect x="409.46" y="324.40" width="4.2" height="4.2" rx="1" fill="#444" stroke="#222" stroke-width="0.5"/>
<path d="M410.46,325.40L412.66,327.60M410.46,327.60L412.66,325.40" stroke="#bbb" stroke-width="0.5" fill="none"/>
<rect x="428.18" y="325.60" width="4.2" height="4.2" rx="1" fill="#444" stroke="#222" stroke-width="0.5"/>
<path d="M429.18,326.60L431.38,328.80M429.18,328.80L431.38,326.60" stroke="#bbb" stroke-width="0.5" fill="none"/>
<rect x="446.90" y="326.90" width="4.2" height="4.2" rx="1" fill="#444" stroke="#222" stroke-width="0.5"/>
<path d="M447.90,327.90L450.10,330.10M447.90,330.10L450.10,327.90" stroke="#bbb" stroke-width="0.5" fill="none"/>
<circle cx="336.68" cy="338.00" r="1.9" fill="#fff" stroke="#555" stroke-width="0.7"/>
<circle cx="355.40" cy="333.50" r="1.9" fill="#fff" stroke="#555" stroke-width="0.7"/>
<circle cx="374.12" cy="327.30" r="1.9" fill="#fff" stroke="#555" stroke-width="0.7"/>
<circle cx="392.84" cy="329.70" r="1.9" fill="#fff" stroke="#555" stroke-width="0.7"/>
<circle cx="411.56" cy="331.30" r="1.9" fill="#fff" stroke="#555" stroke-width="0.7"/>
<circle cx="430.28" cy="333.30" r="1.9" fill="#fff" stroke="#555" stroke-width="0.7"/>
<circle cx="449.00" cy="334.50" r="1.9" fill="#fff" stroke="#555" stroke-width="0.7"/>
<circle cx="336.68" cy="338.00" r="1.2" fill="#000" stroke="#000" stroke-width="0"/>
<circle cx="355.40" cy="334.50" r="1.2" fill="#000" stroke="#000" stroke-width="0"/>
<circle cx="374.12" cy="332.00" r="1.2" fill="#000" stroke="#000" stroke-width="0"/>
<circle cx="392.84" cy="334.00" r="1.2" fill="#000" stroke="#000" stroke-width="0"/>
<circle cx="411.56" cy="335.70" r="1.2" fill="#000" stroke="#000" stroke-width="0"/>
<circle cx="430.28" cy="336.90" r="1.2" fill="#000" stroke="#000" stroke-width="0"/>
<circle cx="449.00" cy="337.60" r="1.2" fill="#000" stroke="#000" stroke-width="0"/>
<rect x="260.00" y="337.60" width="3.6" height="3.6" fill="#222"/>
<line x1="44.8" y1="461.31666666666666" x2="234.6" y2="461.31666666666666" stroke="#e4e4e4" stroke-width="0.9" />
<line x1="44.8" y1="441.8333333333333" x2="234.6" y2="441.8333333333333" stroke="#e4e4e4" stroke-width="0.9" />
<line x1="44.8" y1="422.35" x2="234.6" y2="422.35" stroke="#e4e4e4" stroke-width="0.9" />
<line x1="44.8" y1="402.8666666666667" x2="234.6" y2="402.8666666666667" stroke="#e4e4e4" stroke-width="0.9" />
<line x1="44.8" y1="383.3833333333333" x2="234.6" y2="383.3833333333333" stroke="#e4e4e4" stroke-width="0.9" />
<line x1="44.8" y1="363.9" x2="234.6" y2="363.9" stroke="#a8a8a8" stroke-width="1" />
<line x1="234.6" y1="363.9" x2="234.6" y2="480.8" stroke="#c0c0c0" stroke-width="1" />
<line x1="44.8" y1="363.9" x2="44.8" y2="480.8" stroke="#b0b0b0" stroke-width="0.9" />
<line x1="44.8" y1="480.8" x2="234.6" y2="480.8" stroke="#aaa" stroke-width="1" />
<text x="40.4" y="482.3" font-size="4.5" text-anchor="end" fill="#333" font-weight="normal" textLength="2.5" lengthAdjust="spacingAndGlyphs" stroke="#333" stroke-width="0.2">0</text>
<text x="40.4" y="462.81666666666666" font-size="4.5" text-anchor="end" fill="#333" font-weight="normal" textLength="13.76" lengthAdjust="spacingAndGlyphs" stroke="#333" stroke-width="0.2">10,000</text>
<text x="40.4" y="443.3333333333333" font-size="4.5" text-anchor="end" fill="#333" font-weight="normal" textLength="13.76" lengthAdjust="spacingAndGlyphs" stroke="#333" stroke-width="0.2">20,000</text>
<text x="40.4" y="423.85" font-size="4.5" text-anchor="end" fill="#333" font-weight="normal" textLength="13.76" lengthAdjust="spacingAndGlyphs" stroke="#333" stroke-width="0.2">30,000</text>
<text x="40.4" y="404.3666666666667" font-size="4.5" text-anchor="end" fill="#333" font-weight="normal" textLength="13.76" lengthAdjust="spacingAndGlyphs" stroke="#333" stroke-width="0.2">40,000</text>
<text x="40.4" y="384.8833333333333" font-size="4.5" text-anchor="end" fill="#333" font-weight="normal" textLength="13.76" lengthAdjust="spacingAndGlyphs" stroke="#333" stroke-width="0.2">50,000</text>
<text x="40.4" y="365.4" font-size="4.5" text-anchor="end" fill="#333" font-weight="normal" textLength="13.76" lengthAdjust="spacingAndGlyphs" stroke="#333" stroke-width="0.2">60,000</text>
<text x="44.5" y="488.40000000000003" font-size="4.5" text-anchor="middle" fill="#333" font-weight="normal" textLength="2.63" lengthAdjust="spacingAndGlyphs" stroke="#333" stroke-width="0.2">0</text>
<text x="63.4" y="488.40000000000003" font-size="4.5" text-anchor="middle" fill="#333" font-weight="normal" textLength="2.63" lengthAdjust="spacingAndGlyphs" stroke="#333" stroke-width="0.2">1</text>
<text x="82.3" y="488.40000000000003" font-size="4.5" text-anchor="middle" fill="#333" font-weight="normal" textLength="2.63" lengthAdjust="spacingAndGlyphs" stroke="#333" stroke-width="0.2">2</text>
<text x="101.19999999999999" y="488.40000000000003" font-size="4.5" text-anchor="middle" fill="#333" font-weight="normal" textLength="2.63" lengthAdjust="spacingAndGlyphs" stroke="#333" stroke-width="0.2">3</text>
<text x="120.1" y="488.40000000000003" font-size="4.5" text-anchor="middle" fill="#333" font-weight="normal" textLength="2.63" lengthAdjust="spacingAndGlyphs" stroke="#333" stroke-width="0.2">4</text>
<text x="139.0" y="488.40000000000003" font-size="4.5" text-anchor="middle" fill="#333" font-weight="normal" textLength="2.63" lengthAdjust="spacingAndGlyphs" stroke="#333" stroke-width="0.2">5</text>
<text x="157.89999999999998" y="488.40000000000003" font-size="4.5" text-anchor="middle" fill="#333" font-weight="normal" textLength="2.63" lengthAdjust="spacingAndGlyphs" stroke="#333" stroke-width="0.2">6</text>
<text x="176.79999999999998" y="488.40000000000003" font-size="4.5" text-anchor="middle" fill="#333" font-weight="normal" textLength="2.63" lengthAdjust="spacingAndGlyphs" stroke="#333" stroke-width="0.2">7</text>
<text x="195.7" y="488.40000000000003" font-size="4.5" text-anchor="middle" fill="#333" font-weight="normal" textLength="2.63" lengthAdjust="spacingAndGlyphs" stroke="#333" stroke-width="0.2">8</text>
<text x="214.6" y="488.40000000000003" font-size="4.5" text-anchor="middle" fill="#333" font-weight="normal" textLength="2.63" lengthAdjust="spacingAndGlyphs" stroke="#333" stroke-width="0.2">9</text>
<text x="233.5" y="488.40000000000003" font-size="4.5" text-anchor="middle" fill="#333" font-weight="normal" textLength="5.26" lengthAdjust="spacingAndGlyphs" stroke="#333" stroke-width="0.2">10</text>
<rect x="53.6" y="389" width="78.9" height="23.399999999999977" fill="#fff" stroke="#333" stroke-width="1.2"/>
<text x="61.6" y="405.59999999999997" font-size="13.2" text-anchor="start" fill="#111" font-weight="normal" textLength="63.8" lengthAdjust="spacingAndGlyphs" >10 nM Dex</text>
<polyline points="44.50,480.80 120.10,479.40 139.00,476.70 157.90,463.20 176.80,446.70 195.70,410.10 214.60,423.70 233.50,452.90" fill="none" stroke="#a8a8a8" stroke-width="0.75" stroke-linejoin="round" />
<polyline points="44.50,480.80 120.10,479.40 139.00,476.70 157.90,470.50 176.80,467.00 195.70,465.00 214.60,469.00 233.50,473.20" fill="none" stroke="#999" stroke-width="0.8" stroke-linejoin="round" />
<polyline points="44.50,480.80 120.10,479.40 139.00,476.70 157.90,468.60 176.80,457.50 195.70,447.50 214.60,459.70 233.50,470.00" fill="none" stroke="#777" stroke-width="0.8" stroke-linejoin="round" />
<polyline points="44.50,480.80 120.10,479.40 139.00,476.70 157.90,467.00 176.80,457.00 195.70,441.50 214.60,454.30 233.50,464.30" fill="none" stroke="#555" stroke-width="0.9" stroke-linejoin="round" />
<polyline points="44.50,480.80 120.10,479.40 139.00,476.70 157.90,473.20 176.80,470.50 195.70,470.50 214.60,475.10 233.50,475.90" fill="none" stroke="#000" stroke-width="1.0" stroke-linejoin="round" />
<polyline points="44.50,480.80 120.10,479.40 139.00,476.70 157.90,466.40 176.80,451.50 195.70,403.30 214.60,376.30 233.50,387.10" fill="none" stroke="#111" stroke-width="1.1" stroke-linejoin="round" />
<path d="M117.60,476.90L122.60,481.90M117.60,481.90L122.60,476.90" stroke="#666" stroke-width="0.7" fill="none"/>
<path d="M136.50,474.20L141.50,479.20M136.50,479.20L141.50,474.20" stroke="#666" stroke-width="0.7" fill="none"/>
<path d="M155.40,460.70L160.40,465.70M155.40,465.70L160.40,460.70" stroke="#666" stroke-width="0.7" fill="none"/>
<path d="M174.30,444.20L179.30,449.20M174.30,449.20L179.30,444.20" stroke="#666" stroke-width="0.7" fill="none"/>
<path d="M193.20,407.60L198.20,412.60M193.20,412.60L198.20,407.60" stroke="#666" stroke-width="0.7" fill="none"/>
<path d="M212.10,421.20L217.10,426.20M212.10,426.20L217.10,421.20" stroke="#666" stroke-width="0.7" fill="none"/>
<path d="M231.00,450.40L236.00,455.40M231.00,455.40L236.00,450.40" stroke="#666" stroke-width="0.7" fill="none"/>
<path d="M118.00,479.40L122.20,479.40M120.10,477.30L120.10,481.50" stroke="#888" stroke-width="0.7" fill="none"/>
<path d="M136.90,476.70L141.10,476.70M139.00,474.60L139.00,478.80" stroke="#888" stroke-width="0.7" fill="none"/>
<path d="M155.80,470.50L160.00,470.50M157.90,468.40L157.90,472.60" stroke="#888" stroke-width="0.7" fill="none"/>
<path d="M174.70,467.00L178.90,467.00M176.80,464.90L176.80,469.10" stroke="#888" stroke-width="0.7" fill="none"/>
<path d="M193.60,465.00L197.80,465.00M195.70,462.90L195.70,467.10" stroke="#888" stroke-width="0.7" fill="none"/>
<path d="M212.50,469.00L216.70,469.00M214.60,466.90L214.60,471.10" stroke="#888" stroke-width="0.7" fill="none"/>
<path d="M231.40,473.20L235.60,473.20M233.50,471.10L233.50,475.30" stroke="#888" stroke-width="0.7" fill="none"/>
<polygon points="120.10,477.00 122.38,481.08 117.82,481.08" fill="#fff" stroke="#333" stroke-width="0.7"/>
<polygon points="139.00,474.30 141.28,478.38 136.72,478.38" fill="#fff" stroke="#333" stroke-width="0.7"/>
<polygon points="157.90,464.00 160.18,468.08 155.62,468.08" fill="#fff" stroke="#333" stroke-width="0.7"/>
<polygon points="176.80,449.10 179.08,453.18 174.52,453.18" fill="#fff" stroke="#333" stroke-width="0.7"/>
<polygon points="195.70,400.90 197.98,404.98 193.42,404.98" fill="#fff" stroke="#333" stroke-width="0.7"/>
<polygon points="214.60,373.90 216.88,377.98 212.32,377.98" fill="#fff" stroke="#333" stroke-width="0.7"/>
<polygon points="233.50,384.70 235.78,388.78 231.22,388.78" fill="#fff" stroke="#333" stroke-width="0.7"/>
<rect x="118.00" y="477.30" width="4.2" height="4.2" rx="1" fill="#444" stroke="#222" stroke-width="0.5"/>
<path d="M119.00,478.30L121.20,480.50M119.00,480.50L121.20,478.30" stroke="#bbb" stroke-width="0.5" fill="none"/>
<rect x="136.90" y="474.60" width="4.2" height="4.2" rx="1" fill="#444" stroke="#222" stroke-width="0.5"/>
<path d="M137.90,475.60L140.10,477.80M137.90,477.80L140.10,475.60" stroke="#bbb" stroke-width="0.5" fill="none"/>
<rect x="155.80" y="464.90" width="4.2" height="4.2" rx="1" fill="#444" stroke="#222" stroke-width="0.5"/>
<path d="M156.80,465.90L159.00,468.10M156.80,468.10L159.00,465.90" stroke="#bbb" stroke-width="0.5" fill="none"/>
<rect x="174.70" y="454.90" width="4.2" height="4.2" rx="1" fill="#444" stroke="#222" stroke-width="0.5"/>
<path d="M175.70,455.90L177.90,458.10M175.70,458.10L177.90,455.90" stroke="#bbb" stroke-width="0.5" fill="none"/>
<rect x="193.60" y="439.40" width="4.2" height="4.2" rx="1" fill="#444" stroke="#222" stroke-width="0.5"/>
<path d="M194.60,440.40L196.80,442.60M194.60,442.60L196.80,440.40" stroke="#bbb" stroke-width="0.5" fill="none"/>
<rect x="212.50" y="452.20" width="4.2" height="4.2" rx="1" fill="#444" stroke="#222" stroke-width="0.5"/>
<path d="M213.50,453.20L215.70,455.40M213.50,455.40L215.70,453.20" stroke="#bbb" stroke-width="0.5" fill="none"/>
<rect x="231.40" y="462.20" width="4.2" height="4.2" rx="1" fill="#444" stroke="#222" stroke-width="0.5"/>
<path d="M232.40,463.20L234.60,465.40M232.40,465.40L234.60,463.20" stroke="#bbb" stroke-width="0.5" fill="none"/>
<circle cx="120.10" cy="479.40" r="1.9" fill="#fff" stroke="#555" stroke-width="0.7"/>
<circle cx="139.00" cy="476.70" r="1.9" fill="#fff" stroke="#555" stroke-width="0.7"/>
<circle cx="157.90" cy="468.60" r="1.9" fill="#fff" stroke="#555" stroke-width="0.7"/>
<circle cx="176.80" cy="457.50" r="1.9" fill="#fff" stroke="#555" stroke-width="0.7"/>
<circle cx="195.70" cy="447.50" r="1.9" fill="#fff" stroke="#555" stroke-width="0.7"/>
<circle cx="214.60" cy="459.70" r="1.9" fill="#fff" stroke="#555" stroke-width="0.7"/>
<circle cx="233.50" cy="470.00" r="1.9" fill="#fff" stroke="#555" stroke-width="0.7"/>
<circle cx="120.10" cy="479.40" r="1.2" fill="#000" stroke="#000" stroke-width="0"/>
<circle cx="139.00" cy="476.70" r="1.2" fill="#000" stroke="#000" stroke-width="0"/>
<circle cx="157.90" cy="473.20" r="1.2" fill="#000" stroke="#000" stroke-width="0"/>
<circle cx="176.80" cy="470.50" r="1.2" fill="#000" stroke="#000" stroke-width="0"/>
<circle cx="195.70" cy="470.50" r="1.2" fill="#000" stroke="#000" stroke-width="0"/>
<circle cx="214.60" cy="475.10" r="1.2" fill="#000" stroke="#000" stroke-width="0"/>
<circle cx="233.50" cy="475.90" r="1.2" fill="#000" stroke="#000" stroke-width="0"/>
<rect x="42.70" y="479.00" width="3.6" height="3.6" fill="#222"/>
<line x1="263.5" y1="461.7666666666667" x2="449.8" y2="461.7666666666667" stroke="#e4e4e4" stroke-width="0.9" />
<line x1="263.5" y1="442.43333333333334" x2="449.8" y2="442.43333333333334" stroke="#e4e4e4" stroke-width="0.9" />
<line x1="263.5" y1="423.1" x2="449.8" y2="423.1" stroke="#e4e4e4" stroke-width="0.9" />
<line x1="263.5" y1="403.7666666666667" x2="449.8" y2="403.7666666666667" stroke="#e4e4e4" stroke-width="0.9" />
<line x1="263.5" y1="384.43333333333334" x2="449.8" y2="384.43333333333334" stroke="#e4e4e4" stroke-width="0.9" />
<line x1="263.5" y1="365.1" x2="449.8" y2="365.1" stroke="#a8a8a8" stroke-width="1" />
<line x1="449.8" y1="365.1" x2="449.8" y2="481.1" stroke="#c0c0c0" stroke-width="1" />
<line x1="263.5" y1="365.1" x2="263.5" y2="481.1" stroke="#b0b0b0" stroke-width="0.9" />
<line x1="263.5" y1="481.1" x2="449.8" y2="481.1" stroke="#aaa" stroke-width="1" />
<text x="260.4" y="482.6" font-size="4.3" text-anchor="end" fill="#333" font-weight="normal" textLength="2.46" lengthAdjust="spacingAndGlyphs" stroke="#333" stroke-width="0.2">0</text>
<text x="260.4" y="463.2666666666667" font-size="4.3" text-anchor="end" fill="#333" font-weight="normal" textLength="13.55" lengthAdjust="spacingAndGlyphs" stroke="#333" stroke-width="0.2">10,000</text>
<text x="260.4" y="443.93333333333334" font-size="4.3" text-anchor="end" fill="#333" font-weight="normal" textLength="13.55" lengthAdjust="spacingAndGlyphs" stroke="#333" stroke-width="0.2">20,000</text>
<text x="260.4" y="424.6" font-size="4.3" text-anchor="end" fill="#333" font-weight="normal" textLength="13.55" lengthAdjust="spacingAndGlyphs" stroke="#333" stroke-width="0.2">30,000</text>
<text x="260.4" y="405.2666666666667" font-size="4.3" text-anchor="end" fill="#333" font-weight="normal" textLength="13.55" lengthAdjust="spacingAndGlyphs" stroke="#333" stroke-width="0.2">40,000</text>
<text x="260.4" y="385.93333333333334" font-size="4.3" text-anchor="end" fill="#333" font-weight="normal" textLength="13.55" lengthAdjust="spacingAndGlyphs" stroke="#333" stroke-width="0.2">50,000</text>
<text x="260.4" y="366.6" font-size="4.3" text-anchor="end" fill="#333" font-weight="normal" textLength="13.55" lengthAdjust="spacingAndGlyphs" stroke="#333" stroke-width="0.2">60,000</text>
<text x="263.0" y="488.70000000000005" font-size="4.3" text-anchor="middle" fill="#333" font-weight="normal" textLength="2.51" lengthAdjust="spacingAndGlyphs" stroke="#333" stroke-width="0.2">0</text>
<text x="281.68" y="488.70000000000005" font-size="4.3" text-anchor="middle" fill="#333" font-weight="normal" textLength="2.51" lengthAdjust="spacingAndGlyphs" stroke="#333" stroke-width="0.2">1</text>
<text x="300.36" y="488.70000000000005" font-size="4.3" text-anchor="middle" fill="#333" font-weight="normal" textLength="2.51" lengthAdjust="spacingAndGlyphs" stroke="#333" stroke-width="0.2">2</text>
<text x="319.04" y="488.70000000000005" font-size="4.3" text-anchor="middle" fill="#333" font-weight="normal" textLength="2.51" lengthAdjust="spacingAndGlyphs" stroke="#333" stroke-width="0.2">3</text>
<text x="337.72" y="488.70000000000005" font-size="4.3" text-anchor="middle" fill="#333" font-weight="normal" textLength="2.51" lengthAdjust="spacingAndGlyphs" stroke="#333" stroke-width="0.2">4</text>
<text x="356.4" y="488.70000000000005" font-size="4.3" text-anchor="middle" fill="#333" font-weight="normal" textLength="2.51" lengthAdjust="spacingAndGlyphs" stroke="#333" stroke-width="0.2">5</text>
<text x="375.08" y="488.70000000000005" font-size="4.3" text-anchor="middle" fill="#333" font-weight="normal" textLength="2.51" lengthAdjust="spacingAndGlyphs" stroke="#333" stroke-width="0.2">6</text>
<text x="393.76" y="488.70000000000005" font-size="4.3" text-anchor="middle" fill="#333" font-weight="normal" textLength="2.51" lengthAdjust="spacingAndGlyphs" stroke="#333" stroke-width="0.2">7</text>
<text x="412.44" y="488.70000000000005" font-size="4.3" text-anchor="middle" fill="#333" font-weight="normal" textLength="2.51" lengthAdjust="spacingAndGlyphs" stroke="#333" stroke-width="0.2">8</text>
<text x="431.12" y="488.70000000000005" font-size="4.3" text-anchor="middle" fill="#333" font-weight="normal" textLength="2.51" lengthAdjust="spacingAndGlyphs" stroke="#333" stroke-width="0.2">9</text>
<text x="449.8" y="488.70000000000005" font-size="4.3" text-anchor="middle" fill="#333" font-weight="normal" textLength="5.02" lengthAdjust="spacingAndGlyphs" stroke="#333" stroke-width="0.2">10</text>
<rect x="275.1" y="388.6" width="86.79999999999995" height="23.799999999999955" fill="#fff" stroke="#333" stroke-width="1.2"/>
<text x="283" y="405.4" font-size="13.2" text-anchor="start" fill="#111" font-weight="normal" textLength="71" lengthAdjust="spacingAndGlyphs" >100 nM Dex</text>
<polyline points="263.00,481.10 337.72,479.40 356.40,477.40 375.08,461.80 393.76,442.80 412.44,414.40 431.12,420.40 449.80,439.00" fill="none" stroke="#a8a8a8" stroke-width="0.75" stroke-linejoin="round" />
<polyline points="263.00,481.10 337.72,479.40 356.40,477.40 375.08,469.70 393.76,461.30 412.44,454.00 431.12,461.30 449.80,468.50" fill="none" stroke="#999" stroke-width="0.8" stroke-linejoin="round" />
<polyline points="263.00,481.10 337.72,479.40 356.40,477.40 375.08,467.30 393.76,452.90 412.44,442.80 431.12,453.40 449.80,466.00" fill="none" stroke="#777" stroke-width="0.8" stroke-linejoin="round" />
<polyline points="263.00,481.10 337.72,479.40 356.40,477.40 375.08,468.00 393.76,456.00 412.44,439.70 431.12,445.70 449.80,463.70" fill="none" stroke="#555" stroke-width="0.9" stroke-linejoin="round" />
<polyline points="263.00,481.10 337.72,479.40 356.40,477.40 375.08,471.60 393.76,467.30 412.44,465.40 431.12,469.20 449.80,472.10" fill="none" stroke="#000" stroke-width="1.0" stroke-linejoin="round" />
<polyline points="263.00,481.10 337.72,479.40 356.40,477.40 375.08,465.40 393.76,445.70 412.44,400.80 431.12,369.40 449.80,371.80" fill="none" stroke="#111" stroke-width="1.1" stroke-linejoin="round" />
<path d="M335.22,476.90L340.22,481.90M335.22,481.90L340.22,476.90" stroke="#666" stroke-width="0.7" fill="none"/>
<path d="M353.90,474.90L358.90,479.90M353.90,479.90L358.90,474.90" stroke="#666" stroke-width="0.7" fill="none"/>
<path d="M372.58,459.30L377.58,464.30M372.58,464.30L377.58,459.30" stroke="#666" stroke-width="0.7" fill="none"/>
<path d="M391.26,440.30L396.26,445.30M391.26,445.30L396.26,440.30" stroke="#666" stroke-width="0.7" fill="none"/>
<path d="M409.94,411.90L414.94,416.90M409.94,416.90L414.94,411.90" stroke="#666" stroke-width="0.7" fill="none"/>
<path d="M428.62,417.90L433.62,422.90M428.62,422.90L433.62,417.90" stroke="#666" stroke-width="0.7" fill="none"/>
<path d="M447.30,436.50L452.30,441.50M447.30,441.50L452.30,436.50" stroke="#666" stroke-width="0.7" fill="none"/>
<path d="M335.62,479.40L339.82,479.40M337.72,477.30L337.72,481.50" stroke="#888" stroke-width="0.7" fill="none"/>
<path d="M354.30,477.40L358.50,477.40M356.40,475.30L356.40,479.50" stroke="#888" stroke-width="0.7" fill="none"/>
<path d="M372.98,469.70L377.18,469.70M375.08,467.60L375.08,471.80" stroke="#888" stroke-width="0.7" fill="none"/>
<path d="M391.66,461.30L395.86,461.30M393.76,459.20L393.76,463.40" stroke="#888" stroke-width="0.7" fill="none"/>
<path d="M410.34,454.00L414.54,454.00M412.44,451.90L412.44,456.10" stroke="#888" stroke-width="0.7" fill="none"/>
<path d="M429.02,461.30L433.22,461.30M431.12,459.20L431.12,463.40" stroke="#888" stroke-width="0.7" fill="none"/>
<path d="M447.70,468.50L451.90,468.50M449.80,466.40L449.80,470.60" stroke="#888" stroke-width="0.7" fill="none"/>
<polygon points="337.72,477.00 340.00,481.08 335.44,481.08" fill="#fff" stroke="#333" stroke-width="0.7"/>
<polygon points="356.40,475.00 358.68,479.08 354.12,479.08" fill="#fff" stroke="#333" stroke-width="0.7"/>
<polygon points="375.08,463.00 377.36,467.08 372.80,467.08" fill="#fff" stroke="#333" stroke-width="0.7"/>
<polygon points="393.76,443.30 396.04,447.38 391.48,447.38" fill="#fff" stroke="#333" stroke-width="0.7"/>
<polygon points="412.44,398.40 414.72,402.48 410.16,402.48" fill="#fff" stroke="#333" stroke-width="0.7"/>
<polygon points="431.12,367.00 433.40,371.08 428.84,371.08" fill="#fff" stroke="#333" stroke-width="0.7"/>
<polygon points="449.80,369.40 452.08,373.48 447.52,373.48" fill="#fff" stroke="#333" stroke-width="0.7"/>
<rect x="335.62" y="477.30" width="4.2" height="4.2" rx="1" fill="#444" stroke="#222" stroke-width="0.5"/>
<path d="M336.62,478.30L338.82,480.50M336.62,480.50L338.82,478.30" stroke="#bbb" stroke-width="0.5" fill="none"/>
<rect x="354.30" y="475.30" width="4.2" height="4.2" rx="1" fill="#444" stroke="#222" stroke-width="0.5"/>
<path d="M355.30,476.30L357.50,478.50M355.30,478.50L357.50,476.30" stroke="#bbb" stroke-width="0.5" fill="none"/>
<rect x="372.98" y="465.90" width="4.2" height="4.2" rx="1" fill="#444" stroke="#222" stroke-width="0.5"/>
<path d="M373.98,466.90L376.18,469.10M373.98,469.10L376.18,466.90" stroke="#bbb" stroke-width="0.5" fill="none"/>
<rect x="391.66" y="453.90" width="4.2" height="4.2" rx="1" fill="#444" stroke="#222" stroke-width="0.5"/>
<path d="M392.66,454.90L394.86,457.10M392.66,457.10L394.86,454.90" stroke="#bbb" stroke-width="0.5" fill="none"/>
<rect x="410.34" y="437.60" width="4.2" height="4.2" rx="1" fill="#444" stroke="#222" stroke-width="0.5"/>
<path d="M411.34,438.60L413.54,440.80M411.34,440.80L413.54,438.60" stroke="#bbb" stroke-width="0.5" fill="none"/>
<rect x="429.02" y="443.60" width="4.2" height="4.2" rx="1" fill="#444" stroke="#222" stroke-width="0.5"/>
<path d="M430.02,444.60L432.22,446.80M430.02,446.80L432.22,444.60" stroke="#bbb" stroke-width="0.5" fill="none"/>
<rect x="447.70" y="461.60" width="4.2" height="4.2" rx="1" fill="#444" stroke="#222" stroke-width="0.5"/>
<path d="M448.70,462.60L450.90,464.80M448.70,464.80L450.90,462.60" stroke="#bbb" stroke-width="0.5" fill="none"/>
<circle cx="337.72" cy="479.40" r="1.9" fill="#fff" stroke="#555" stroke-width="0.7"/>
<circle cx="356.40" cy="477.40" r="1.9" fill="#fff" stroke="#555" stroke-width="0.7"/>
<circle cx="375.08" cy="467.30" r="1.9" fill="#fff" stroke="#555" stroke-width="0.7"/>
<circle cx="393.76" cy="452.90" r="1.9" fill="#fff" stroke="#555" stroke-width="0.7"/>
<circle cx="412.44" cy="442.80" r="1.9" fill="#fff" stroke="#555" stroke-width="0.7"/>
<circle cx="431.12" cy="453.40" r="1.9" fill="#fff" stroke="#555" stroke-width="0.7"/>
<circle cx="449.80" cy="466.00" r="1.9" fill="#fff" stroke="#555" stroke-width="0.7"/>
<circle cx="337.72" cy="479.40" r="1.2" fill="#000" stroke="#000" stroke-width="0"/>
<circle cx="356.40" cy="477.40" r="1.2" fill="#000" stroke="#000" stroke-width="0"/>
<circle cx="375.08" cy="471.60" r="1.2" fill="#000" stroke="#000" stroke-width="0"/>
<circle cx="393.76" cy="467.30" r="1.2" fill="#000" stroke="#000" stroke-width="0"/>
<circle cx="412.44" cy="465.40" r="1.2" fill="#000" stroke="#000" stroke-width="0"/>
<circle cx="431.12" cy="469.20" r="1.2" fill="#000" stroke="#000" stroke-width="0"/>
<circle cx="449.80" cy="472.10" r="1.2" fill="#000" stroke="#000" stroke-width="0"/>
<rect x="261.20" y="479.30" width="3.6" height="3.6" fill="#222"/>
<rect x="453.9" y="291.3" width="62.3" height="108.3" fill="#fff" stroke="#333" stroke-width="1.3"/>
<text x="461.4" y="316.3" font-size="8.6" text-anchor="start" fill="#222" font-weight="normal" textLength="44.6" lengthAdjust="spacingAndGlyphs" stroke="#222" stroke-width="0.15">µM DMOG</text>
<line x1="461.2" y1="325.2" x2="478" y2="325.2" stroke="#000" stroke-width="1.6" />
<polygon points="469.60,322.20 472.45,327.30 466.75,327.30" fill="#fff" stroke="#333" stroke-width="0.8"/>
<text x="482.8" y="329.9" font-size="14" text-anchor="start" fill="#111" font-weight="normal" textLength="24.3" lengthAdjust="spacingAndGlyphs" >333</text>
<line x1="461.2" y1="337.9" x2="478" y2="337.9" stroke="#aaa" stroke-width="0.8" stroke-dasharray="1,2"/>
<path d="M467.00,335.30L472.20,340.50M467.00,340.50L472.20,335.30" stroke="#444" stroke-width="0.8" fill="none"/>
<text x="483.3" y="342.6" font-size="14" text-anchor="start" fill="#111" font-weight="normal" textLength="23.5" lengthAdjust="spacingAndGlyphs" >111</text>
<line x1="461.2" y1="350.6" x2="478" y2="350.6" stroke="#444" stroke-width="1" />
<rect x="466.8" y="347.8" width="5.6" height="5.6" rx="1.2" fill="#333" stroke="#111" stroke-width="0.5"/>
<path d="M468.10,349.10L471.10,352.10M468.10,352.10L471.10,349.10" stroke="#bbb" stroke-width="0.6" fill="none"/>
<text x="482.5" y="355.1" font-size="14" text-anchor="start" fill="#111" font-weight="normal" textLength="16.3" lengthAdjust="spacingAndGlyphs" >37</text>
<line x1="461.2" y1="363.4" x2="478" y2="363.4" stroke="#666" stroke-width="0.9" />
<circle cx="469.60" cy="363.40" r="2.7" fill="#fff" stroke="#444" stroke-width="0.8"/>
<text x="482.5" y="367.9" font-size="14" text-anchor="start" fill="#111" font-weight="normal" textLength="16.3" lengthAdjust="spacingAndGlyphs" >12</text>
<line x1="461.2" y1="375.6" x2="478" y2="375.6" stroke="#aaa" stroke-width="1.8" />
<path d="M466.80,375.60L472.40,375.60M469.60,372.80L469.60,378.40" stroke="#999" stroke-width="0.8" fill="none"/>
<text x="482" y="380.1" font-size="14" text-anchor="start" fill="#111" font-weight="normal" textLength="21.0" lengthAdjust="spacingAndGlyphs" >4.1</text>
<line x1="461.2" y1="388" x2="478" y2="388" stroke="#000" stroke-width="2" />
<circle cx="469.60" cy="388.00" r="1.7" fill="#000" stroke="#000" stroke-width="0"/>
<text x="482.5" y="393.2" font-size="14" text-anchor="start" fill="#111" font-weight="normal" textLength="7.4" lengthAdjust="spacingAndGlyphs" >0</text>
<line x1="2.5" y1="2" x2="2.5" y2="211" stroke="#555" stroke-width="1.2" />
<line x1="2.5" y1="211" x2="2.5" y2="516" stroke="#888" stroke-width="1.2" />
<line x1="2" y1="2.7" x2="520" y2="2.7" stroke="#888" stroke-width="1.8" />
<line x1="519.1" y1="2" x2="519.1" y2="516" stroke="#777" stroke-width="1.8" />
<line x1="2" y1="516.2" x2="519" y2="516.2" stroke="#111" stroke-width="1.8" />
<line x1="208" y1="2" x2="208" y2="211" stroke="#999" stroke-width="2" />
<line x1="2" y1="211.3" x2="519" y2="211.3" stroke="#111" stroke-width="1.4" />
<line x1="240.4" y1="211" x2="240.4" y2="497" stroke="#333" stroke-width="1" />
<line x1="33" y1="349.8" x2="453.9" y2="349.8" stroke="#333" stroke-width="1" />
</svg>
</body></html>
